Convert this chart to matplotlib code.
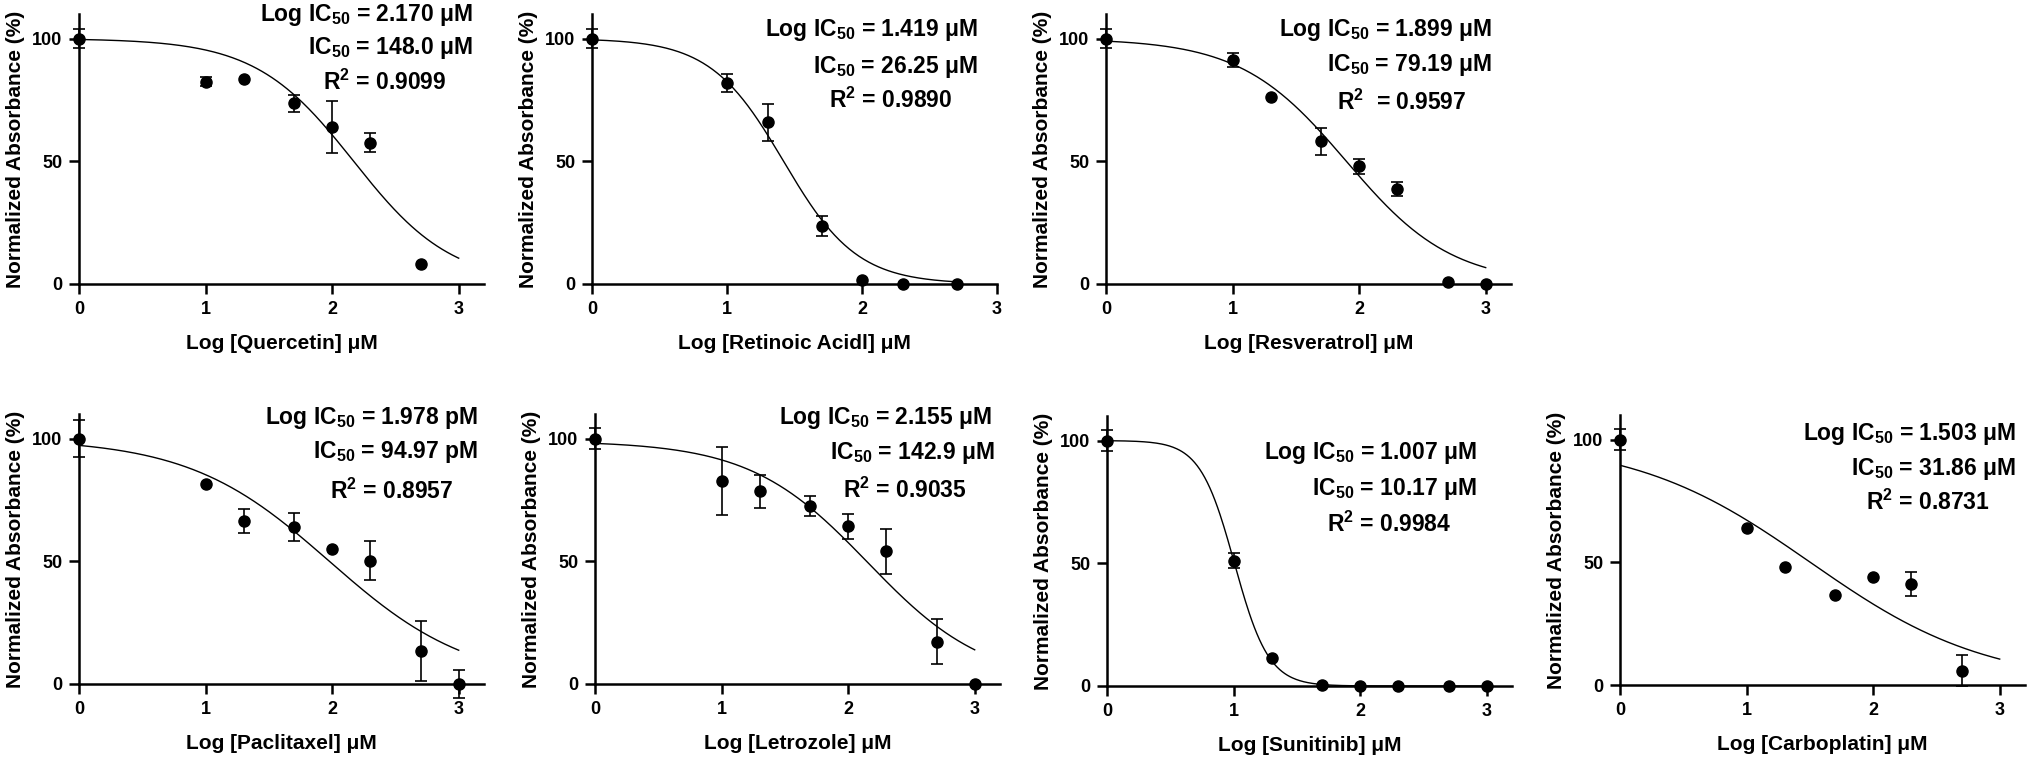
import numpy as np
import matplotlib
matplotlib.use("Agg")
import matplotlib.pyplot as plt

plt.rcParams['font.family'] = ['Liberation Sans', 'DejaVu Sans']
plt.rcParams['font.weight'] = 'bold'
plt.rcParams['mathtext.fontset'] = 'custom'
plt.rcParams['mathtext.rm'] = 'Liberation Sans:bold'
plt.rcParams['mathtext.it'] = 'Liberation Sans:bold'
plt.rcParams['mathtext.bf'] = 'Liberation Sans:bold'
plt.rcParams['mathtext.default'] = 'rm'

# Data (log concentration, mean normalized absorbance, SD; 0 = no bar)
drugs = ["Quercetin", "Retinoic Acidl", "Resveratrol", "Paclitaxel",
         "Letrozole", "Sunitinib", "Carboplatin"]

x_querc = [0, 1, 1.3, 1.7, 2, 2.3, 2.7]
y_querc = [100, 82.4, 83.5, 73.6, 64.0, 57.6, 8.0]
e_querc = [4, 1.8, 0, 3.4, 10.6, 3.8, 0]

x_retin = [0, 1, 1.3, 1.7, 2, 2.3, 2.7]
y_retin = [100, 82.0, 65.9, 23.7, 1.5, 0, 0]
e_retin = [4, 3.7, 7.6, 4.1, 0, 0, 0]

x_resv = [0, 1, 1.3, 1.7, 2, 2.3, 2.7, 3]
y_resv = [100, 91.3, 76.1, 58.1, 47.9, 38.6, 0.8, 0]
e_resv = [4, 2.9, 0, 5.6, 3.1, 2.9, 0, 0]

x_pacl = [0, 1, 1.3, 1.7, 2, 2.3, 2.7, 3]
y_pacl = [100, 81.5, 66.4, 64.1, 55.2, 50.2, 13.5, 0]
e_pacl = [7.5, 0, 4.7, 5.7, 0, 8.0, 12.2, 5.6]

x_letr = [0, 1, 1.3, 1.7, 2, 2.3, 2.7, 3]
y_letr = [100, 82.6, 78.5, 72.4, 64.2, 54.0, 17.3, 0]
e_letr = [4.1, 13.9, 6.7, 4.0, 5.2, 9.0, 9.0, 0]

x_suni = [0, 1, 1.3, 1.7, 2, 2.3, 2.7, 3]
y_suni = [100, 51.1, 11.6, 0.4, 0, 0, 0, 0]
e_suni = [4.1, 3.2, 0, 0, 0, 0, 0, 0]

x_carb = [0, 1, 1.3, 1.7, 2, 2.3, 2.7]
y_carb = [100, 64.0, 48.0, 36.7, 44.2, 41.1, 5.8]
e_carb = [4.2, 0, 0, 0, 0, 4.8, 6.4]

xs = [x_querc, x_retin, x_resv, x_pacl, x_letr, x_suni, x_carb]
ys = [y_querc, y_retin, y_resv, y_pacl, y_letr, y_suni, y_carb]
es = [e_querc, e_retin, e_resv, e_pacl, e_letr, e_suni, e_carb]

# Fitted 4PL parameters
log_ic50 = [2.170, 1.419, 1.899, 1.978, 2.155, 1.007, 1.503]
ic50 = ["148.0", "26.25", "79.19", "94.97", "142.9", "10.17", "31.86"]
r2 = ["0.9099", "0.9890", "0.9597", "0.8957", "0.9035", "0.9984", "0.8731"]
units = ["μM", "μM", "μM", "pM", "μM", "μM", "μM"]
hill = [-1.12, -1.6, -1.04, -0.78, -0.93, -3.2, -0.62]
top = [100, 100, 100, 100, 99, 100, 100]
bottom = [0, 0, 0, 0, 0, 0, 0]
curve_end = [3, 2.7, 3, 3, 3, 3, 3]

# Layout (pixels in the 2029x764 figure)
W, H = 2029, 764
lefts = [79, 592, 1106, 79, 595, 1107, 1620]
base_px = [284, 284, 284, 684, 684, 686, 685]
xmax = [3.2, 3.0, 3.2, 3.2, 3.2, 3.2, 3.2]
ax_w, ax_h = 405, 270

# text positions: (x_right, y_center) for the three lines
text_pos = [
    [(3.11, 110.3), (3.11, 96.8), (2.90, 81.9)],
    [(2.86, 104), (2.86, 89), (2.67, 74.7)],
    [(3.05, 104), (3.05, 89.6), (2.85, 74)],
    [(3.15, 109), (3.15, 95), (2.96, 78.4)],
    [(3.14, 109), (3.16, 94.7), (2.94, 79)],
    [(2.92, 95.5), (2.92, 81), (2.72, 65.7)],
    [(3.13, 103), (3.13, 88.6), (2.92, 74.3)],
]

fig = plt.figure(figsize=(W / 100, H / 100), dpi=100)

for i in range(len(drugs)):
    ax = fig.add_axes([lefts[i] / W, (H - base_px[i]) / H, ax_w / W, ax_h / H])
    x = np.array(xs[i])
    y = np.array(ys[i])
    e = np.array(es[i])

    # fitted curve
    xc = np.linspace(0, curve_end[i], 300)
    yc = bottom[i] + (top[i] - bottom[i]) / (1 + 10 ** ((log_ic50[i] - xc) * hill[i]))
    ax.plot(xc, yc, color="black", lw=1.0, zorder=2)

    m = e > 0
    ax.errorbar(x[m], y[m], yerr=e[m], fmt="none", ecolor="black",
                elinewidth=1.2, capsize=4, capthick=1.2, clip_on=False, zorder=3)
    ax.plot(x, y, "o", color="black", ms=8, clip_on=False, zorder=4)

    ax.set_xlim(0, xmax[i])
    ax.set_ylim(0, 110)
    ax.set_xticks([0, 1, 2, 3])
    ax.set_yticks([0, 50, 100])
    for s in ["top", "right"]:
        ax.spines[s].set_visible(False)
    for s in ["left", "bottom"]:
        ax.spines[s].set_linewidth(1.8)
    ax.tick_params(width=1.8, length=7, labelsize=13, pad=5)
    ax.set_xlabel("Log [" + drugs[i] + "] μM", fontsize=15, fontweight="bold", labelpad=12)
    ax.set_ylabel("Normalized Absorbance (%)", fontsize=15, fontweight="bold", labelpad=5)

    sep = "  " if i == 2 else " "
    lines = ["Log IC$_{50}$ = %.3f %s" % (log_ic50[i], units[i]),
             "IC$_{50}$ = %s %s" % (ic50[i], units[i]),
             "R$^{2}$" + sep + "= " + r2[i]]
    for (tx, ty), s in zip(text_pos[i], lines):
        ax.text(tx, ty - 3.0, s, ha="right", va="baseline", fontsize=16.5,
                fontweight="bold", clip_on=False)

fig.savefig("out.png", dpi=100)
